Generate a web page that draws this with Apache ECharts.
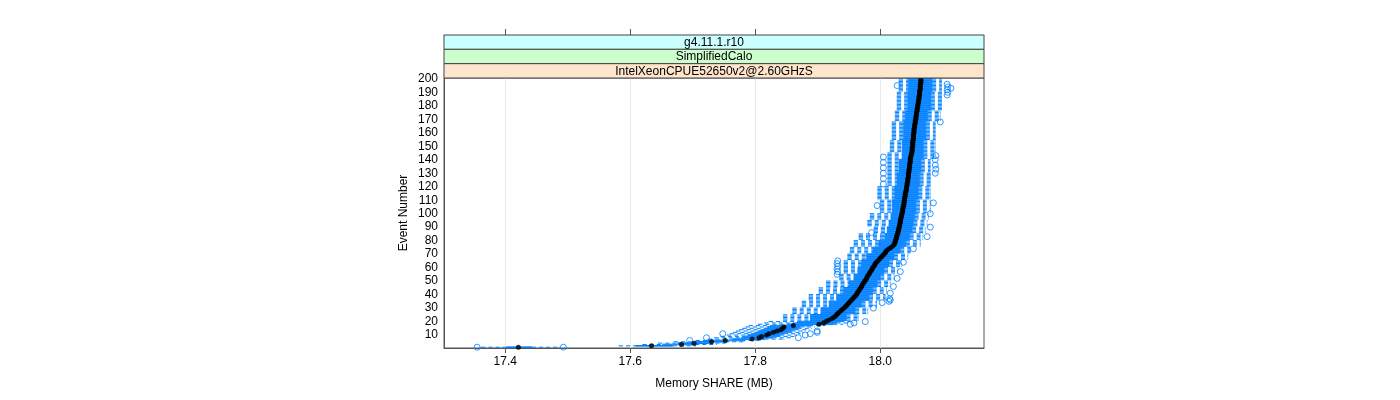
<!DOCTYPE html>
<html><head><meta charset="utf-8">
<script src="https://cdn.jsdelivr.net/npm/echarts@6/dist/echarts.min.js"></script>
<style>html,body{margin:0;padding:0;background:#fff}#c{width:1400px;height:400px}</style>
</head><body><div id="c"></div>
<script>
const stripLabels = ['g4.11.1.r10', 'SimplifiedCalo', 'IntelXeonCPUE52650v2@2.60GHzS'];
const stripColors = ['#ccffff', '#ccffcc', '#ffe5cc'];
const xTicks = [17.4, 17.6, 17.8, 18.0];
const yTicks = [10,20,30,40,50,60,70,80,90,100,110,120,130,140,150,160,170,180,190,200];
const xTitle = 'Memory SHARE (MB)';
const yTitle = 'Event Number';

const median = [
17.421,17.634,17.682,17.702,17.730,17.752,17.795,17.806,17.810,17.818,
17.822,17.829,17.835,17.841,17.844,17.846,17.861,17.902,17.909,17.913,
17.917,17.922,17.925,17.928,17.930,17.932,17.934,17.937,17.939,17.942,
17.944,17.946,17.948,17.950,17.952,17.954,17.956,17.958,17.960,17.962,
17.963,17.964,17.966,17.967,17.969,17.970,17.971,17.972,17.974,17.975,
17.977,17.978,17.979,17.980,17.982,17.983,17.984,17.986,17.987,17.988,
17.990,17.991,17.992,17.994,17.996,17.998,18.000,18.002,18.004,18.006,
18.008,18.009,18.011,18.014,18.017,18.020,18.022,18.023,18.024,18.024,
18.025,18.026,18.026,18.027,18.028,18.028,18.029,18.029,18.030,18.030,
18.031,18.031,18.032,18.032,18.032,18.033,18.033,18.034,18.034,18.035,
18.035,18.036,18.036,18.036,18.037,18.037,18.038,18.038,18.038,18.039,
18.039,18.039,18.040,18.040,18.040,18.041,18.041,18.042,18.042,18.042,
18.043,18.043,18.043,18.044,18.044,18.044,18.045,18.045,18.045,18.045,
18.046,18.046,18.046,18.047,18.047,18.047,18.047,18.048,18.048,18.048,
18.048,18.049,18.049,18.050,18.050,18.051,18.051,18.051,18.051,18.052,
18.052,18.052,18.052,18.052,18.053,18.053,18.053,18.053,18.053,18.054,
18.054,18.054,18.054,18.055,18.055,18.055,18.056,18.056,18.056,18.057,
18.057,18.057,18.058,18.058,18.058,18.059,18.059,18.059,18.060,18.060,
18.060,18.061,18.061,18.061,18.062,18.062,18.062,18.063,18.063,18.063,
18.063,18.064,18.064,18.064,18.064,18.064,18.065,18.065,18.065,18.065];

const lowerWhisker = [
17.362,17.582,17.620,17.645,17.670,17.705,17.725,17.735,17.745,17.755,
17.760,17.765,17.770,17.775,17.780,17.785,17.790,17.805,17.815,17.822,
17.845,17.845,17.845,17.845,17.845,17.860,17.860,17.860,17.860,17.860,
17.875,17.875,17.875,17.875,17.875,17.886,17.886,17.886,17.886,17.886,
17.902,17.902,17.902,17.902,17.902,17.914,17.914,17.914,17.914,17.914,
17.935,17.935,17.935,17.935,17.935,17.942,17.942,17.942,17.942,17.942,
17.942,17.942,17.942,17.942,17.942,17.948,17.948,17.948,17.948,17.948,
17.952,17.952,17.952,17.952,17.952,17.958,17.958,17.958,17.958,17.958,
17.966,17.966,17.966,17.966,17.966,17.990,17.990,17.990,17.990,17.990,
17.980,17.980,17.980,17.980,17.980,17.984,17.984,17.984,17.984,17.984,
18.000,18.000,18.000,18.000,18.000,18.000,18.000,18.000,18.000,18.000,
17.996,17.996,17.996,17.996,17.996,17.996,17.996,17.996,17.996,17.996,
18.012,18.012,18.012,18.012,18.012,18.012,18.012,18.012,18.012,18.012,
18.012,18.012,18.012,18.012,18.012,18.012,18.012,18.012,18.012,18.012,
18.012,18.012,18.012,18.012,18.012,18.016,18.016,18.016,18.016,18.016,
18.016,18.016,18.016,18.016,18.019,18.019,18.019,18.019,18.019,18.019,
18.019,18.019,18.019,18.019,18.019,18.019,18.019,18.019,18.024,18.024,
18.024,18.024,18.024,18.024,18.024,18.024,18.027,18.027,18.027,18.027,
18.027,18.027,18.027,18.027,18.027,18.027,18.027,18.027,18.027,18.027,
18.030,18.030,18.030,18.030,18.030,18.030,18.030,18.030,18.030,18.030];

const lowerQuartile = [
17.402,17.608,17.652,17.676,17.706,17.722,17.764,17.778,17.783,17.788,
17.794,17.801,17.806,17.812,17.816,17.820,17.830,17.852,17.866,17.872,
17.888,17.888,17.888,17.888,17.888,17.905,17.905,17.905,17.905,17.905,
17.918,17.918,17.918,17.918,17.918,17.930,17.930,17.930,17.930,17.930,
17.941,17.941,17.941,17.941,17.941,17.950,17.950,17.950,17.950,17.950,
17.958,17.958,17.958,17.958,17.958,17.964,17.964,17.964,17.964,17.964,
17.970,17.970,17.970,17.970,17.970,17.978,17.978,17.978,17.978,17.978,
17.988,17.988,17.988,17.988,17.988,17.998,17.998,17.998,17.998,17.998,
18.007,18.007,18.007,18.007,18.007,18.011,18.011,18.011,18.011,18.011,
18.014,18.014,18.014,18.014,18.014,18.017,18.017,18.017,18.017,18.017,
18.019,18.019,18.019,18.019,18.019,18.019,18.019,18.019,18.019,18.019,
18.023,18.023,18.023,18.023,18.023,18.023,18.023,18.023,18.023,18.023,
18.027,18.027,18.027,18.027,18.027,18.027,18.027,18.027,18.027,18.027,
18.030,18.030,18.030,18.030,18.030,18.030,18.030,18.030,18.030,18.030,
18.035,18.035,18.035,18.035,18.035,18.035,18.035,18.035,18.035,18.035,
18.035,18.035,18.035,18.035,18.037,18.037,18.037,18.037,18.037,18.037,
18.037,18.037,18.037,18.037,18.037,18.037,18.037,18.037,18.040,18.040,
18.040,18.040,18.040,18.040,18.040,18.040,18.044,18.044,18.044,18.044,
18.044,18.044,18.044,18.044,18.044,18.044,18.044,18.044,18.044,18.044,
18.045,18.045,18.045,18.045,18.045,18.045,18.045,18.045,18.045,18.045];

const upperQuartile = [
17.443,17.668,17.704,17.725,17.752,17.778,17.815,17.828,17.834,17.840,
17.846,17.853,17.858,17.864,17.868,17.872,17.886,17.925,17.930,17.936,
17.946,17.946,17.946,17.946,17.946,17.960,17.960,17.960,17.960,17.960,
17.970,17.970,17.970,17.970,17.970,17.982,17.982,17.982,17.982,17.982,
17.988,17.988,17.988,17.988,17.988,17.995,17.995,17.995,17.995,17.995,
18.000,18.000,18.000,18.000,18.000,18.006,18.006,18.006,18.006,18.006,
18.014,18.014,18.014,18.014,18.014,18.022,18.022,18.022,18.022,18.022,
18.032,18.032,18.032,18.032,18.032,18.041,18.041,18.041,18.041,18.041,
18.047,18.047,18.047,18.047,18.047,18.051,18.051,18.051,18.051,18.051,
18.053,18.053,18.053,18.053,18.053,18.055,18.055,18.055,18.055,18.055,
18.057,18.057,18.057,18.057,18.057,18.057,18.057,18.057,18.057,18.057,
18.061,18.061,18.061,18.061,18.061,18.061,18.061,18.061,18.061,18.061,
18.063,18.063,18.063,18.063,18.063,18.063,18.063,18.063,18.063,18.063,
18.065,18.065,18.065,18.065,18.065,18.065,18.065,18.065,18.065,18.065,
18.069,18.069,18.069,18.069,18.069,18.069,18.069,18.069,18.069,18.069,
18.069,18.069,18.069,18.069,18.073,18.073,18.073,18.073,18.073,18.073,
18.073,18.073,18.073,18.073,18.073,18.073,18.073,18.073,18.076,18.076,
18.076,18.076,18.076,18.076,18.076,18.076,18.081,18.081,18.081,18.081,
18.081,18.081,18.081,18.081,18.081,18.081,18.081,18.081,18.081,18.081,
18.083,18.083,18.083,18.083,18.083,18.083,18.083,18.083,18.083,18.083];

const upperWhisker = [
17.487,17.705,17.738,17.752,17.782,17.808,17.846,17.856,17.862,17.866,
17.872,17.876,17.880,17.886,17.890,17.895,17.912,17.940,17.948,17.954,
17.965,17.965,17.965,17.965,17.965,17.980,17.980,17.980,17.980,17.980,
17.994,17.994,17.994,17.994,17.994,18.008,18.008,18.008,18.008,18.008,
18.010,18.010,18.010,18.010,18.010,18.016,18.016,18.016,18.016,18.016,
18.022,18.022,18.022,18.022,18.022,18.028,18.028,18.028,18.028,18.028,
18.034,18.034,18.034,18.034,18.034,18.044,18.044,18.044,18.044,18.044,
18.048,18.048,18.048,18.048,18.048,18.064,18.064,18.064,18.064,18.064,
18.068,18.068,18.068,18.068,18.068,18.072,18.072,18.072,18.072,18.072,
18.075,18.075,18.075,18.075,18.075,18.077,18.077,18.077,18.077,18.077,
18.080,18.080,18.080,18.080,18.080,18.080,18.080,18.080,18.080,18.080,
18.080,18.080,18.080,18.080,18.080,18.080,18.080,18.080,18.080,18.080,
18.080,18.080,18.080,18.080,18.080,18.080,18.080,18.080,18.080,18.080,
18.080,18.080,18.080,18.080,18.080,18.080,18.080,18.080,18.080,18.080,
18.088,18.088,18.088,18.088,18.088,18.088,18.088,18.088,18.088,18.088,
18.088,18.088,18.088,18.088,18.088,18.088,18.088,18.088,18.088,18.088,
18.088,18.088,18.088,18.088,18.088,18.088,18.088,18.088,18.096,18.096,
18.096,18.096,18.096,18.096,18.096,18.096,18.098,18.098,18.098,18.098,
18.098,18.098,18.098,18.098,18.098,18.098,18.098,18.098,18.098,18.098,
18.098,18.098,18.098,18.098,18.098,18.098,18.098,18.098,18.098,18.098];

const outliers = [
[1,17.355],[1,17.493],[6,17.695],[8,17.722],[8,17.869],[10,17.880],[11,17.748],[11,17.888],
[12,17.899],[13,17.899],[18,17.952],[19,17.958],[20,17.976],[30,17.989],[34,18.003],[35,18.014],
[36,18.016],[37,18.015],[41,18.016],[46,18.021],[52,18.027],[55,17.931],[57,17.932],[57,18.032],
[59,17.931],[61,17.932],[63,17.931],[64,18.037],[65,17.932],[74,18.053],[83,18.075],[86,17.986],
[90,18.080],[100,18.080],[106,17.995],[108,18.085],[122,18.005],[126,18.005],[130,18.005],[130,18.088],
[133,18.089],[134,18.005],[136,18.088],[138,18.005],[140,18.088],[142,18.005],[143,18.089],[168,18.096],
[188,18.107],[190,18.108],[192,18.107],[193,18.113],[194,18.108],[195,18.027],[196,18.107]];

const events = median.map((_, i) => i + 1);

const FONT = "'Liberation Sans', Arial, Helvetica, sans-serif";
const BLUE = '#0080ff';
const X_MIN = 17.302, X_MAX = 18.166, Y_MIN = 0.4, Y_MAX = 200.6;
const G = {left: 444, top: 78, width: 540, height: 270};
const STRIP_TOP = 35, STRIP_H = (G.top - STRIP_TOP) / 3;

const boxData = events.map((e, i) => [e, lowerWhisker[i], lowerQuartile[i], median[i], upperQuartile[i], upperWhisker[i]]);
const medianData = events.map((e, i) => [median[i], e]);
const outlierData = outliers.map(o => [o[1], o[0]]);

const graphics = [];
stripLabels.forEach((lab, k) => {
  const y = STRIP_TOP + k * STRIP_H;
  graphics.push({type: 'rect', z: 10, shape: {x: G.left, y: y, width: G.width, height: STRIP_H},
    style: {fill: stripColors[k], stroke: '#444', lineWidth: 1}});
  graphics.push({type: 'text', z: 11, x: G.left + G.width / 2, y: y + STRIP_H / 2 + 0.5,
    style: {text: lab, font: '12px ' + FONT, fill: '#000', textAlign: 'center', textVerticalAlign: 'middle'}});
});
graphics.push({type: 'text', x: G.left + G.width / 2, y: 384,
  style: {text: xTitle, font: '12px ' + FONT, fill: '#000', textAlign: 'center', textVerticalAlign: 'middle'}});
graphics.push({type: 'text', x: 404, y: G.top + G.height / 2, rotation: Math.PI / 2,
  style: {text: yTitle, font: '12px ' + FONT, fill: '#000', textAlign: 'center', textVerticalAlign: 'middle'}});

const chart = echarts.init(document.getElementById('c'), null, {renderer: 'canvas'});
chart.setOption({
  animation: false,
  backgroundColor: '#fff',
  textStyle: {fontFamily: FONT},
  grid: {left: G.left, top: G.top, width: G.width, height: G.height, show: true,
    borderColor: '#555', borderWidth: 1, backgroundColor: 'transparent', containLabel: false},
  xAxis: [
    {type: 'value', min: X_MIN, max: X_MAX, position: 'bottom',
      axisLine: {show: true, lineStyle: {color: '#555'}},
      axisTick: {show: true, length: 5, customValues: xTicks, lineStyle: {color: '#555'}},
      axisLabel: {customValues: xTicks, formatter: v => v.toFixed(1), fontSize: 12, color: '#000', margin: 8, fontFamily: FONT},
      splitLine: {show: false}},
    {type: 'value', min: X_MIN, max: X_MAX, position: 'top', offset: G.top - STRIP_TOP,
      axisLine: {show: true, lineStyle: {color: '#555'}},
      axisTick: {show: true, length: 6, customValues: xTicks, lineStyle: {color: '#555'}},
      axisLabel: {show: false}, splitLine: {show: false}}
  ],
  yAxis: {type: 'value', min: Y_MIN, max: Y_MAX,
    axisLine: {show: true, lineStyle: {color: '#555'}},
    axisTick: {show: false},
    axisLabel: {customValues: yTicks, fontSize: 12, color: '#000', margin: 6, fontFamily: FONT},
    splitLine: {show: false}},
  graphic: graphics,
  series: [
    {type: 'custom', name: 'grid', z: 1, silent: true, clip: true,
      data: xTicks.map(v => [v]), encode: {x: 0},
      renderItem: (params, api) => {
        const v = api.value(0);
        const a = api.coord([v, Y_MAX]), b = api.coord([v, Y_MIN]);
        return {type: 'line', shape: {x1: Math.round(a[0]) + 0.5, y1: a[1], x2: Math.round(a[0]) + 0.5, y2: b[1]},
          style: {stroke: '#e8e8e8', lineWidth: 1}};
      }},
    {type: 'custom', name: 'boxes', z: 2, silent: true, clip: true,
      data: boxData, encode: {x: [1, 2, 3, 4, 5], y: 0},
      renderItem: (params, api) => {
        const e = api.value(0);
        const pLo = api.coord([api.value(1), e]);
        const pQ1 = api.coord([api.value(2), e]);
        const pQ3 = api.coord([api.value(4), e]);
        const pHi = api.coord([api.value(5), e]);
        const h = api.size([0, 1])[1] * 0.5;
        const cy = pLo[1];
        const dash = {stroke: BLUE, lineWidth: 1, lineDash: [4, 3]};
        return {type: 'group', children: [
          {type: 'line', shape: {x1: pLo[0], y1: cy, x2: pQ1[0], y2: cy}, style: dash},
          {type: 'line', shape: {x1: pQ3[0], y1: cy, x2: pHi[0], y2: cy}, style: dash},
          {type: 'line', shape: {x1: pLo[0], y1: cy - h / 2, x2: pLo[0], y2: cy + h / 2}, style: {stroke: BLUE, lineWidth: 1}},
          {type: 'line', shape: {x1: pHi[0], y1: cy - h / 2, x2: pHi[0], y2: cy + h / 2}, style: {stroke: BLUE, lineWidth: 1}},
          {type: 'rect', shape: {x: pQ1[0], y: cy - h / 2, width: pQ3[0] - pQ1[0], height: h},
            style: {fill: 'none', stroke: BLUE, lineWidth: 1}}
        ]};
      }},
    {type: 'scatter', name: 'outliers', z: 3, silent: true, symbol: 'circle', symbolSize: 6,
      data: outlierData, itemStyle: {color: 'rgba(255,255,255,0)', borderColor: BLUE, borderWidth: 1}},
    {type: 'scatter', name: 'median', z: 4, silent: true, symbol: 'circle', symbolSize: 5,
      data: medianData, itemStyle: {color: '#000'}}
  ]
});
</script>
</body></html>
